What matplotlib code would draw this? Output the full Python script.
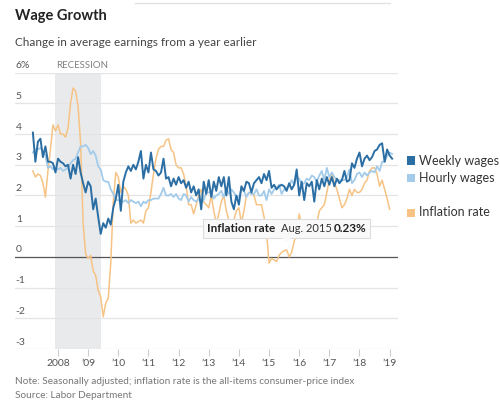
import numpy as np
import pandas as pd
import matplotlib
matplotlib.use("Agg")
import matplotlib.pyplot as plt
from matplotlib.patches import Rectangle, Polygon

plt.rcParams['font.family'] = ['Lato', 'DejaVu Sans']

# year-over-year change, %, monthly
# weekly and hourly wages: Mar 2007 - Feb 2019
weekly = [4.05, 3.1, 3.75, 3.85, 3.25, 3.6, 3.1, 3.1, 3.05, 2.75,
          3.2, 3.1, 3.05, 2.95, 3.0, 2.55, 3.0, 2.7, 3.25, 2.75, 2.4, 2.1,
          2.45, 2.3, 1.55, 1.9, 1.3, 0.75, 1.1, 0.95, 1.25, 1.05, 1.6, 1.9,
          2.35, 1.5, 2.45, 2.75, 2.95, 2.8, 3.0, 2.85, 3.1, 3.45, 2.55, 3.0,
          2.75, 3.4, 2.85, 2.8, 2.65, 2.75, 3.2, 2.55, 2.6, 2.3, 2.55, 2.35,
          2.6, 2.4, 2.5, 2.25, 2.45, 2.1, 2.3, 2.0, 2.2, 1.55, 2.45, 2.05,
          2.5, 1.95, 2.45, 2.15, 2.6, 2.3, 2.6, 2.0, 2.6, 1.8, 1.55, 2.0,
          1.7, 2.3, 2.15, 2.45, 2.4, 2.1, 2.4, 2.5, 2.6, 2.4, 2.7, 2.5,
          2.8, 2.25, 2.35, 2.2, 2.3, 2.35, 2.3, 2.15, 2.4, 2.2, 2.35, 2.85,
          2.0, 2.45, 1.85, 2.4, 2.3, 2.45, 1.8, 2.5, 2.2, 2.55, 2.3, 2.6,
          2.35, 2.6, 2.3, 2.55, 2.4, 2.5, 2.8, 2.45, 2.5, 3.05, 2.9, 3.2,
          3.4, 2.95, 3.2, 3.3, 3.15, 3.25, 3.45, 3.5, 3.65, 3.7, 3.1, 3.5,
          3.3, 3.2]
hourly = [3.4, 3.5, 3.5, 3.55, 3.45, 3.3, 2.9, 2.95, 2.85, 2.9,
          2.85, 2.9, 2.8, 2.85, 2.9, 3.05, 3.15, 3.2, 3.4, 3.6, 3.6, 3.65,
          3.55, 3.35, 3.45, 3.3, 2.95, 2.85, 2.5, 2.45, 2.45, 2.2, 2.05, 1.85,
          1.85, 1.8, 1.8, 1.85, 1.75, 1.85, 1.8, 1.75, 1.8, 1.65, 1.8, 1.75,
          1.85, 1.85, 1.9, 1.9, 1.9, 2.05, 2.25, 2.0, 2.0, 2.05, 1.95, 2.05,
          1.9, 1.85, 2.05, 2.0, 1.8, 1.95, 1.85, 1.8, 1.9, 1.75, 1.85, 2.1,
          2.1, 2.1, 1.9, 2.0, 2.05, 2.15, 1.95, 2.25, 2.05, 2.2, 2.1, 1.95,
          1.95, 2.2, 2.15, 1.95, 2.1, 2.05, 2.05, 2.2, 2.0, 2.0, 2.15, 1.85,
          2.2, 2.05, 2.2, 2.25, 2.35, 2.05, 2.2, 2.25, 2.3, 2.5, 2.35, 2.6,
          2.55, 2.35, 2.4, 2.55, 2.5, 2.65, 2.6, 2.45, 2.65, 2.8, 2.5, 2.9,
          2.6, 2.75, 2.6, 2.5, 2.5, 2.5, 2.5, 2.6, 2.85, 2.4, 2.5, 2.7,
          2.75, 2.6, 2.75, 2.65, 2.75, 2.8, 2.75, 2.95, 2.8, 3.1, 3.1, 3.3,
          3.4, 3.35]
# inflation: Mar 2007 - Jan 2019
inflation = [2.8, 2.6, 2.7, 2.65, 2.4, 1.95, 2.8, 3.5, 4.3, 4.1,
             4.3, 4.0, 4.0, 3.9, 4.2, 5.0, 5.5, 5.4, 4.9, 3.7, 1.1, 0.1,
             -0.05, 0.05, -0.45, -0.6, -1.1, -1.3, -1.95, -1.5, -1.35, -0.2, 1.8, 2.75,
             2.6, 2.1, 2.3, 2.2, 2.0, 1.1, 1.2, 1.1, 1.15, 1.2, 1.1, 1.5,
             1.6, 2.1, 2.7, 3.2, 3.5, 3.6, 3.6, 3.8, 3.85, 3.5, 3.4, 3.0,
             2.9, 2.9, 2.7, 2.3, 1.7, 1.7, 1.4, 1.7, 2.0, 2.2, 1.8, 1.7,
             1.6, 2.0, 1.5, 1.1, 1.4, 1.8, 2.0, 1.5, 1.2, 1.0, 1.2, 1.5,
             1.6, 1.1, 1.5, 2.0, 2.1, 2.1, 2.0, 1.7, 1.7, 1.7, 1.3, 0.8,
             -0.2, -0.05, -0.1, -0.15, 0.05, 0.15, 0.2, 0.23, 0.0, 0.15, 0.5, 0.75,
             1.4, 1.0, 0.9, 1.1, 1.0, 1.0, 0.8, 1.1, 1.5, 1.6, 1.7, 2.1,
             2.5, 2.7, 2.4, 2.2, 1.9, 1.6, 1.7, 1.9, 2.2, 2.0, 2.2, 2.1,
             2.1, 2.2, 2.4, 2.5, 2.8, 2.9, 2.9, 2.7, 2.3, 2.5, 2.2, 1.9,
             1.55]

recession = ('2007-12', '2009-06')
year_ticks = list(range(2008, 2020))
year_labels = ['2008'] + ['\u2019%02d' % (y % 100) for y in range(2009, 2020)]
y_ticks = [-3, -2, -1, 0, 1, 2, 3, 4, 5, 6]
tip_month = '2015-08'

c_weekly = '#2b6ea4'
c_hourly = '#a3cbea'
c_infl = '#f6c384'


def to_year(d):
    d = pd.Timestamp(d)
    return d.year + (d.month - 1) / 12


def month_axis(n):
    idx = pd.date_range('2007-03-01', periods=n, freq='MS')
    return np.array([to_year(d) for d in idx])


W, H = 500, 408
fig = plt.figure(figsize=(W / 100, H / 100), dpi=100)
ax = fig.add_axes([15 / W, (H - 349) / H, 383 / W, 276.3 / H])
ax.set_xlim(2006.574, 2019.277)
ax.set_ylim(-3, 6)

ax.axvspan(to_year(recession[0]), to_year(recession[1]), color='#e9eaec', lw=0, zorder=0)
for v in y_ticks:
    if v == 0:
        ax.axhline(v, color='#555555', lw=0.9, zorder=1)
    else:
        ax.axhline(v, color='#e4e4e4', lw=0.9, zorder=0.5)
    lab = '6%' if v == 6 else str(v)
    ax.text(0.002, v + 0.08, lab, transform=ax.get_yaxis_transform(),
            ha='left', va='bottom', fontsize=7.5, color='#555555')

ax.text(to_year(recession[0]) + 0.02, 6.08, 'RECESSION', ha='left', va='bottom',
        fontsize=7, color='#808080')

ax.plot(month_axis(len(inflation)), inflation, color=c_infl, lw=1.1, zorder=2)
ax.plot(month_axis(len(hourly)), hourly, color=c_hourly, lw=1.3, zorder=3)
ax.plot(month_axis(len(weekly)), weekly, color=c_weekly, lw=1.4, zorder=4)

for s in ax.spines.values():
    s.set_visible(False)
ax.set_yticks([])
ax.set_xticks(year_ticks)
ax.set_xticklabels(year_labels)
ax.tick_params(axis='x', length=5, width=0.8, color='#cccccc', labelsize=7.5,
               labelcolor='#555555', pad=2)

# tooltip for Aug. 2015
fig.canvas.draw()
ti = pd.date_range('2007-03-01', periods=len(inflation), freq='MS').get_loc(pd.Timestamp(tip_month))
px, py = ax.transData.transform((to_year(tip_month), inflation[ti]))
bw, bh = 167, 19
bx, by = px - bw / 2, py + 12
fig.add_artist(Rectangle(((bx + 1) / W, (by - 1) / H), bw / W, bh / H, transform=fig.transFigure,
                         facecolor='#d8d8d8', edgecolor='none', alpha=0.5, zorder=9))
fig.add_artist(Rectangle((bx / W, by / H), bw / W, bh / H, transform=fig.transFigure,
                         facecolor='#f9f9f9', edgecolor='#dcdcdc', lw=0.8, zorder=10))
fig.add_artist(Polygon([((px - 5) / W, (by + 0.5) / H), ((px + 5) / W, (by + 0.5) / H),
                        (px / W, (py + 8) / H)], closed=True, transform=fig.transFigure,
                       facecolor='#f9f9f9', edgecolor='none', zorder=11))
ty = (by + bh / 2) / H
fig.text((bx + 4) / W, ty, 'Inflation rate', fontsize=8.5, weight='bold', color='#222222',
         va='center', ha='left', zorder=12)
fig.text((bx + 78) / W, ty, 'Aug. 2015', fontsize=8, color='#333333',
         va='center', ha='left', zorder=12)
fig.text((bx + bw - 4) / W, ty, '%.2f%%' % inflation[ti], fontsize=8.5, weight='bold', color='#222222',
         va='center', ha='right', zorder=12)

# legend
leg = [('Weekly wages', c_weekly, 160.5), ('Hourly wages', c_hourly, 178), ('Inflation rate', c_infl, 212.5)]
for name, col, yy in leg:
    fig.add_artist(Rectangle((407 / W, (H - yy - 4) / H), 8 / W, 8 / H, transform=fig.transFigure,
                             facecolor=col, edgecolor='none'))
    fig.text(419 / W, (H - yy) / H, name, fontsize=9, color='#333333', va='center', ha='left')

# titles and notes
fig.add_artist(plt.Line2D([135 / W, 390 / W], [(H - 3) / H] * 2, color='#e2e2e2', lw=1))
fig.text(15 / W, (H - 16) / H, 'Wage Growth', fontsize=10.5, weight='bold', color='#222222', va='center')
fig.text(15 / W, (H - 42) / H, 'Change in average earnings from a year earlier', fontsize=8.5,
         color='#444444', va='center')
fig.text(15 / W, (H - 382) / H, 'Note: Seasonally adjusted; inflation rate is the all-items consumer-price index',
         fontsize=7.2, color='#777777', va='center')
fig.text(15 / W, (H - 396) / H, 'Source: Labor Department', fontsize=7.2, color='#777777', va='center')

fig.savefig('out.png', dpi=100)
